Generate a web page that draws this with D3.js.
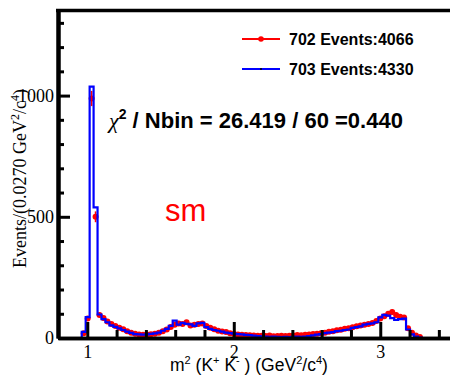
<!DOCTYPE html>
<html>
<head>
<meta charset="utf-8">
<script src="https://cdn.jsdelivr.net/npm/d3@7"></script>
<style>
  html, body { margin: 0; padding: 0; background: #fff; }
  svg { display: block; }
</style>
</head>
<body>
<script>
// Histogram binning: 100 bins of 0.027 GeV^2/c^4 starting at 0.8
const binLow = 0.8;
const binWidth = 0.027;
const nBins = 100;

// Run 703 (blue outline histogram)
const h703 = [
  0, 0, 0, 0, 0, 0, 25, 86, 1037, 539,
  97, 78, 65, 52, 46, 40, 33, 26, 21, 16,
  15, 14, 15, 17, 19, 22, 30, 38, 50, 72,
  55, 62, 58, 56, 50, 60, 62, 45, 38, 33,
  30, 26, 22, 20, 18, 16, 15, 13, 12, 10,
  8, 7, 6, 5, 6, 5, 4, 5, 4, 5,
  6, 5, 6, 8, 11, 14, 16, 20, 22, 24,
  28, 30, 33, 35, 42, 45, 48, 55, 58, 60,
  65, 85, 95, 92, 82, 75, 78, 80, 35, 15,
  6, 2, 0, 0, 0, 0, 0, 0, 0, 0
];

// Run 702 (red points with errors)
const h702 = [
  0, 0, 0, 0, 0, 0, 20, 80, 988, 500,
  95, 82, 68, 58, 50, 42, 36, 28, 22, 18,
  14, 13, 14, 15, 18, 22, 28, 35, 45, 55,
  60, 58, 65, 52, 55, 58, 60, 50, 42, 36,
  30, 27, 25, 20, 17, 14, 13, 12, 11, 10,
  9, 9, 8, 10, 7, 8, 9, 8, 9, 10,
  12, 11, 13, 14, 16, 18, 20, 22, 26, 28,
  32, 34, 38, 40, 44, 48, 52, 55, 58, 62,
  70, 80, 90, 100, 107, 95, 88, 85, 40, 22,
  10, 4, 0, 0, 0, 0, 0, 0, 0, 0
];

const xMajorTicks = [1, 2, 3];
const xMinorTicks = [1.2, 1.4, 1.6, 1.8, 2.2, 2.4, 2.6, 2.8, 3.2, 3.4];
const yMajorTicks = [0, 500, 1000];
const yMinorTicks = [100, 200, 300, 400, 600, 700, 800, 900, 1100, 1200, 1300];

const legendEntries = [
  { label: "702 Events:4066", color: "#ff0000", marker: true },
  { label: "703 Events:4330", color: "#0000ff", marker: false }
];

const W = 450, H = 375;
const svg = d3.select("body").append("svg").attr("width", W).attr("height", H);
svg.append("rect").attr("width", W).attr("height", H).attr("fill", "#fff");

const x = d3.scaleLinear().domain([binLow, binLow + nBins * binWidth]).range([58, 453.5]);
const y = d3.scaleLinear().domain([0, 1351]).range([338, 10.5]);

const edges = d3.range(nBins + 1).map(i => binLow + i * binWidth);

// red points with sqrt(N) error bars
const red = svg.append("g");
const pts = h702.map((v, i) => ({ c: edges[i] + binWidth / 2, v })).filter(d => d.v > 0);
red.selectAll("line.err").data(pts).join("line")
  .attr("x1", d => x(d.c)).attr("x2", d => x(d.c))
  .attr("y1", d => y(d.v + Math.sqrt(d.v))).attr("y2", d => y(d.v - Math.sqrt(d.v)))
  .attr("stroke", "#ff0000").attr("stroke-width", 1.6);
red.selectAll("circle").data(pts).join("circle")
  .attr("cx", d => x(d.c)).attr("cy", d => y(d.v)).attr("r", 3)
  .attr("fill", "#ff0000");

// blue step outline
const stepPts = h703.map((v, i) => [edges[i], v]);
stepPts.push([edges[nBins], h703[nBins - 1]]);
const step = d3.line().x(d => x(d[0])).y(d => y(d[1])).curve(d3.curveStepAfter);
svg.append("path").datum(stepPts)
  .attr("d", step).attr("fill", "none")
  .attr("stroke", "#0000ff").attr("stroke-width", 2.2);

// frame and axes
const serif = "'Liberation Serif', 'Times New Roman', serif";
const sans = "'Liberation Sans', Arial, sans-serif";

svg.append("line")
  .attr("x1", x.range()[0] - 2).attr("x2", W)
  .attr("y1", y.range()[1]).attr("y2", y.range()[1])
  .attr("stroke", "#000").attr("stroke-width", 3.5);

const gxMinor = svg.append("g").attr("transform", `translate(0,${y(0)})`)
  .call(d3.axisBottom(x).tickValues(xMinorTicks).tickSize(-8).tickSizeOuter(0).tickFormat(""));
const gx = svg.append("g").attr("transform", `translate(0,${y(0)})`)
  .call(d3.axisBottom(x).tickValues(xMajorTicks).tickSize(-16).tickSizeOuter(0).tickPadding(7).tickFormat(d3.format("d")));
[gxMinor, gx].forEach(g => {
  g.select(".domain").attr("stroke", "#000").attr("stroke-width", 3.5);
  g.selectAll(".tick line").attr("stroke", "#000").attr("stroke-width", 3);
});
gx.selectAll(".tick text").attr("font-family", serif).attr("font-size", 18).attr("fill", "#000");

const gyMinor = svg.append("g").attr("transform", `translate(${x(binLow)},0)`)
  .call(d3.axisLeft(y).tickValues(yMinorTicks).tickSize(-6).tickSizeOuter(0).tickFormat(""));
const gy = svg.append("g").attr("transform", `translate(${x(binLow)},0)`)
  .call(d3.axisLeft(y).tickValues(yMajorTicks).tickSize(-12).tickSizeOuter(0).tickPadding(4).tickFormat(d3.format("d")));
[gyMinor, gy].forEach(g => {
  g.select(".domain").attr("stroke", "#000").attr("stroke-width", 4);
  g.selectAll(".tick line").attr("stroke", "#000").attr("stroke-width", 3);
});
gy.selectAll(".tick text").attr("font-family", serif).attr("font-size", 18).attr("fill", "#000");

// axis titles
const yt = svg.append("text")
  .attr("transform", "translate(26,268) rotate(-90)")
  .attr("font-family", serif).attr("font-size", 18).attr("fill", "#000");
yt.append("tspan").text("Events/(0.0270 GeV");
yt.append("tspan").attr("font-size", 12).attr("dy", -7).text("2");
yt.append("tspan").attr("dy", 7).text("/c");
yt.append("tspan").attr("font-size", 12).attr("dy", -7).text("4");
yt.append("tspan").attr("dy", 7).text(")");

const xt = svg.append("text")
  .attr("x", 170).attr("y", 371)
  .attr("font-family", sans).attr("font-size", 17.5).attr("fill", "#000");
xt.append("tspan").text("m");
xt.append("tspan").attr("font-size", 11).attr("dy", -7).text("2");
xt.append("tspan").attr("dy", 7).text(" (K");
xt.append("tspan").attr("font-size", 11).attr("dy", -7).text("+");
xt.append("tspan").attr("dy", 7).text(" K");
xt.append("tspan").attr("font-size", 11).attr("dy", -7).text("-");
xt.append("tspan").attr("dy", 7).text(" ) (GeV");
xt.append("tspan").attr("font-size", 11).attr("dy", -7).text("2");
xt.append("tspan").attr("dy", 7).text("/c");
xt.append("tspan").attr("font-size", 11).attr("dy", -7).text("4");
xt.append("tspan").attr("dy", 7).text(")");

// legend
const leg = svg.append("g");
legendEntries.forEach((e, i) => {
  const ly = 39 + i * 30;
  leg.append("line").attr("x1", 242).attr("x2", 280).attr("y1", ly).attr("y2", ly)
    .attr("stroke", e.color).attr("stroke-width", 2);
  if (e.marker) {
    leg.append("circle").attr("cx", 261).attr("cy", ly).attr("r", 2.8).attr("fill", e.color);
  } else {
    leg.append("circle").attr("cx", 261).attr("cy", ly).attr("r", 1).attr("fill", "#000");
  }
  leg.append("text").attr("x", 289).attr("y", ly + 6)
    .attr("font-family", sans).attr("font-weight", "bold").attr("font-size", 16)
    .attr("fill", "#000").text(e.label);
});

// chi-square summary
const chi = svg.append("text").attr("x", 109).attr("y", 128)
  .attr("font-family", sans).attr("font-weight", "bold").attr("font-size", 22).attr("fill", "#000");
chi.append("tspan").attr("font-family", serif).attr("font-style", "italic").attr("font-weight", "normal").text("χ");
chi.append("tspan").attr("font-size", 14).attr("dy", -9).text("2");
chi.append("tspan").attr("dy", 9).text(" / Nbin = 26.419 / 60 =0.440");

svg.append("text").attr("x", 165).attr("y", 221)
  .attr("font-family", sans).attr("font-size", 31).attr("fill", "#ff0000").text("sm");
</script>
</body>
</html>
